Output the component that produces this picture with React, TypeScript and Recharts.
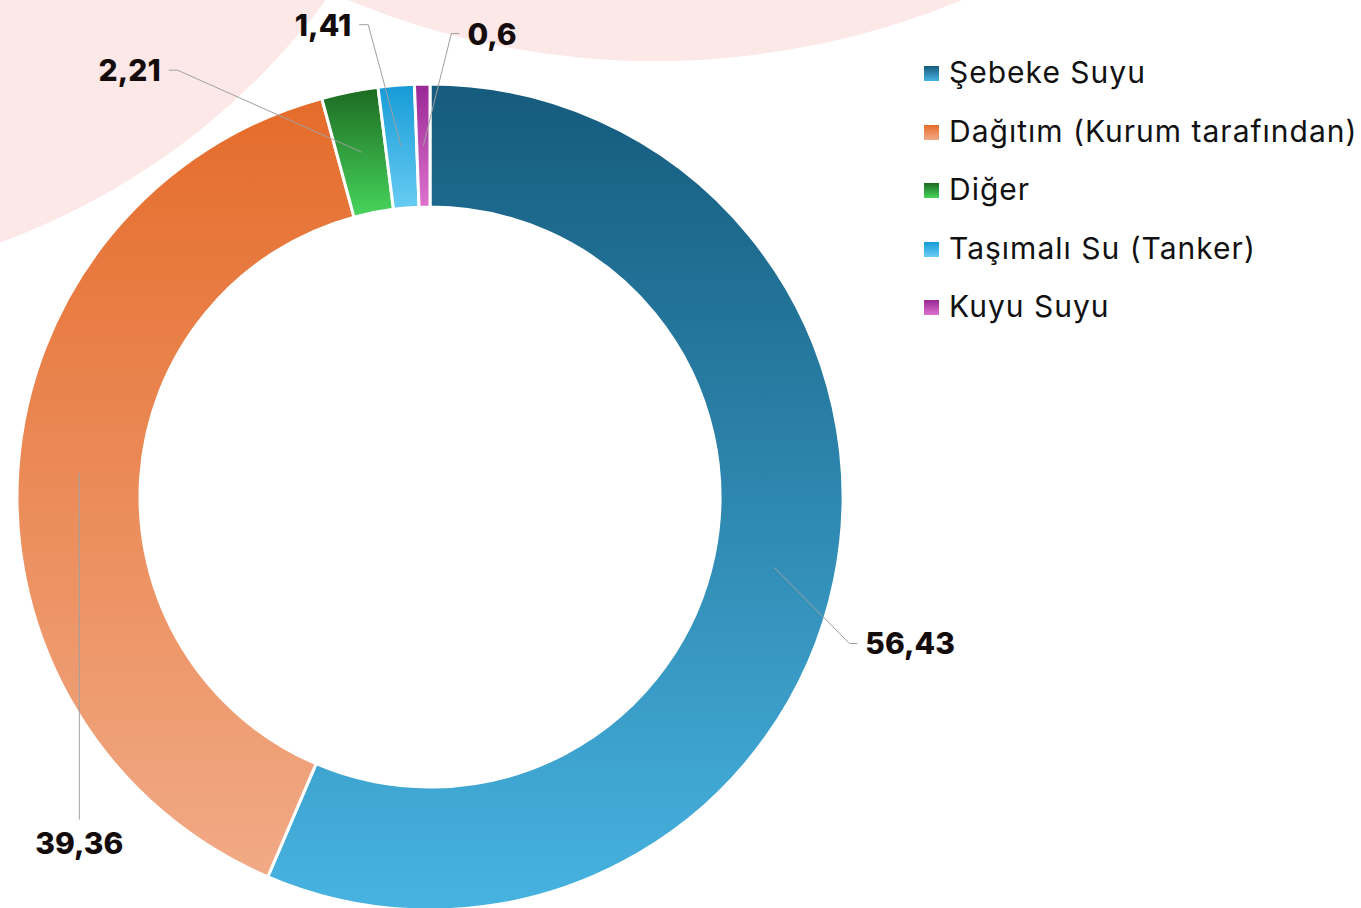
import { Cell, Legend, Pie, PieChart } from "recharts";

const categories = [
  "Şebeke Suyu",
  "Dağıtım (Kurum tarafından)",
  "Diğer",
  "Taşımalı Su (Tanker)",
  "Kuyu Suyu",
];
const shares = [56.43, 39.36, 2.21, 1.41, 0.6];

// top / bottom colour of each slice's vertical gradient
const gradTop = ["#155b7d", "#e56c2b", "#1d6a22", "#169bd7", "#982895"];
const gradBottom = ["#47b3e1", "#f1aa86", "#47d55c", "#68ccf3", "#de72ce"];

// connector elbow offsets from the slice's mid point, and which side the text sits
const labelLayout = [
  { dx: 75, dy: 76, side: "right" },
  { dx: 0, dy: 347, side: "below" },
  { dx: -184, dy: -82, side: "left" },
  { dx: -33, dy: -122, side: "left" },
  { dx: 28, dy: -112, side: "right" },
];

const data = categories.map((name, i) => ({ name, value: shares[i] }));

const W = 1361;
const H = 908;
const RAD = Math.PI / 180;
const FONT = "Inter, 'Noto Sans', sans-serif";

const fmt = (v: number) => String(v).replace(".", ",");

function renderLabel(props: any) {
  const { cx, cy, midAngle, innerRadius, outerRadius, index, value } = props;
  const r = (innerRadius + outerRadius) / 2;
  const x0 = cx + r * Math.cos(-midAngle * RAD);
  const y0 = cy + r * Math.sin(-midAngle * RAD);
  const lay = labelLayout[index];
  const x1 = x0 + lay.dx;
  const y1 = y0 + lay.dy;
  let pts = `${x0},${y0} ${x1},${y1}`;
  let tx = x1;
  let ty = y1;
  let anchor: "start" | "end" | "middle" = "start";
  if (lay.side === "right") {
    pts += ` ${x1 + 8},${y1}`;
    tx = x1 + 16;
  } else if (lay.side === "left") {
    pts += ` ${x1 - 9},${y1}`;
    tx = x1 - 17;
    anchor = "end";
  } else {
    tx = x1;
    ty = y1 + 23;
    anchor = "middle";
  }
  return (
    <g key={`lbl-${index}`}>
      <polyline points={pts} fill="none" stroke="#a0a0a0" strokeWidth={1} />
      <text
        x={tx}
        y={ty}
        textAnchor={anchor}
        dominantBaseline="central"
        fontFamily={FONT}
        fontWeight={800}
        fontSize={30}
        fill="#140b0b"
      >
        {fmt(value)}
      </text>
    </g>
  );
}

function LegendBox() {
  return (
    <div style={{ fontFamily: FONT, fontSize: 30, letterSpacing: 1, color: "#111" }}>
      {categories.map((c, i) => (
        <div
          key={c}
          style={{ display: "flex", alignItems: "center", height: 58.5, whiteSpace: "nowrap" }}
        >
          <svg width={15} height={15} style={{ marginRight: 10, marginTop: 3 }}>
            <rect width={15} height={15} fill={`url(#g${i})`} />
          </svg>
          <span>{c}</span>
        </div>
      ))}
    </div>
  );
}

export default function App() {
  return (
    <div
      style={{
        position: "absolute",
        left: 0,
        top: 0,
        width: W,
        height: H,
        overflow: "hidden",
        background: "#fff",
      }}
    >
      <div
        style={{
          position: "absolute",
          left: -245 - 713,
          top: -427 - 713,
          width: 1426,
          height: 1426,
          borderRadius: "50%",
          background: "#fde8e8",
        }}
      />
      <div
        style={{
          position: "absolute",
          left: 655 - 803,
          top: -742 - 803,
          width: 1606,
          height: 1606,
          borderRadius: "50%",
          background: "#fde8e8",
        }}
      />
      <div style={{ position: "absolute", left: 0, top: 0 }}>
        <PieChart width={W} height={H} margin={{ top: 0, right: 0, bottom: 0, left: 0 }}>
          <defs>
            {gradTop.map((c, i) => (
              <linearGradient key={i} id={`g${i}`} x1="0" y1="0" x2="0" y2="1">
                <stop offset="0%" stopColor={c} />
                <stop offset="100%" stopColor={gradBottom[i]} />
              </linearGradient>
            ))}
          </defs>
          <Pie
            data={data}
            dataKey="value"
            nameKey="name"
            cx={430}
            cy={497}
            innerRadius={290}
            outerRadius={413}
            startAngle={90}
            endAngle={-270}
            stroke="#fff"
            strokeWidth={3}
            label={renderLabel}
            labelLine={false}
            isAnimationActive={false}
          >
            {data.map((d, i) => (
              <Cell key={d.name} fill={`url(#g${i})`} />
            ))}
          </Pie>
          <Legend
            layout="vertical"
            verticalAlign="top"
            align="right"
            content={() => <LegendBox />}
            wrapperStyle={{ left: 924, top: 43, width: "auto", right: "auto" }}
          />
        </PieChart>
      </div>
    </div>
  );
}
